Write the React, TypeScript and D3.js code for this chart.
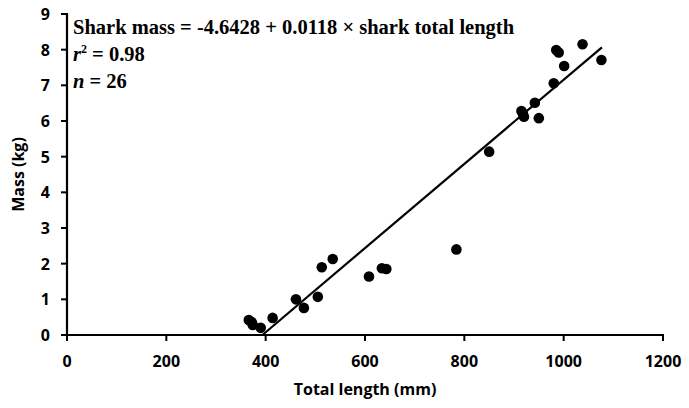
import React, { useEffect, useRef } from 'react';
import * as d3 from 'd3';

// total length (mm) and mass (kg) per shark
const lengths = [366, 372, 374, 390, 414, 461, 477, 505, 513, 535, 608, 634, 643, 784, 850, 915, 918, 920, 942, 950, 980, 985, 990, 1001, 1038, 1076];
const masses = [0.42, 0.36, 0.28, 0.2, 0.48, 1.0, 0.76, 1.07, 1.9, 2.13, 1.64, 1.87, 1.85, 2.4, 5.14, 6.28, 6.2, 6.12, 6.51, 6.08, 7.06, 7.99, 7.92, 7.54, 8.15, 7.71];

const xTicks = [0, 200, 400, 600, 800, 1000, 1200];
const yTicks = [0, 1, 2, 3, 4, 5, 6, 7, 8, 9];

const intercept = -4.6428;
const slope = 0.0118;
const fitRange = [-intercept / slope, 1077];

const W = 689;
const H = 408;
const axisFont = '"Open Sans", sans-serif';
const noteFont = '"Liberation Serif", "Times New Roman", serif';

const App = () => {
  const ref = useRef<SVGSVGElement | null>(null);

  useEffect(() => {
    const svg = d3.select(ref.current);
    svg.selectAll('*').remove();

    const x = d3.scaleLinear().domain([0, 1200]).range([67, 663]);
    const y = d3.scaleLinear().domain([0, 9]).range([335, 14]);

    // x axis
    const gx = svg.append('g').attr('transform', `translate(0,${y(0)})`);
    gx.append('line').attr('x1', x(0) - 1).attr('x2', x(1200) + 1).attr('stroke', '#000').attr('stroke-width', 2.2);
    gx.selectAll('.xt').data(xTicks).enter().append('line')
      .attr('x1', (d) => x(d)).attr('x2', (d) => x(d)).attr('y1', 0).attr('y2', 6)
      .attr('stroke', '#000').attr('stroke-width', 2);
    gx.selectAll('.xl').data(xTicks).enter().append('text')
      .attr('x', (d) => x(d)).attr('y', 32)
      .attr('text-anchor', 'middle')
      .style('font-family', axisFont).style('font-weight', 'bold').style('font-size', '16px')
      .text((d) => d);

    // y axis
    const gy = svg.append('g').attr('transform', `translate(${x(0)},0)`);
    gy.append('line').attr('y1', y(9) - 1).attr('y2', y(0) + 1).attr('stroke', '#000').attr('stroke-width', 2.2);
    gy.selectAll('.yt').data(yTicks).enter().append('line')
      .attr('y1', (d) => y(d)).attr('y2', (d) => y(d)).attr('x1', -6).attr('x2', 0)
      .attr('stroke', '#000').attr('stroke-width', 2);
    gy.selectAll('.yl').data(yTicks).enter().append('text')
      .attr('x', -17).attr('y', (d) => y(d) + 6)
      .attr('text-anchor', 'end')
      .style('font-family', axisFont).style('font-weight', 'bold').style('font-size', '16px')
      .text((d) => d);

    // axis titles
    svg.append('text')
      .attr('x', x(600)).attr('y', 395)
      .attr('text-anchor', 'middle')
      .style('font-family', axisFont).style('font-weight', 'bold').style('font-size', '16px')
      .text('Total length (mm)');
    svg.append('text')
      .attr('transform', `translate(24,${y(4.5)}) rotate(-90)`)
      .attr('text-anchor', 'middle')
      .style('font-family', axisFont).style('font-weight', 'bold').style('font-size', '16px')
      .text('Mass (kg)');

    // regression line
    const line = d3.line<number>().x((d) => x(d)).y((d) => y(intercept + slope * d));
    svg.append('path').attr('d', line(fitRange)).attr('fill', 'none').attr('stroke', '#000').attr('stroke-width', 2.2);

    // points
    svg.selectAll('.pt').data(lengths).enter().append('circle')
      .attr('cx', (d) => x(d)).attr('cy', (d, i) => y(masses[i]))
      .attr('r', 5.3).attr('fill', '#000');

    // annotation
    const note = svg.append('g')
      .style('font-family', noteFont).style('font-weight', 'bold').style('font-size', '20.5px');
    note.append('text').attr('x', 73).attr('y', 34)
      .text('Shark mass = -4.6428 + 0.0118 \u00d7 shark total length');
    const r2 = note.append('text').attr('x', 73).attr('y', 61);
    r2.append('tspan').style('font-style', 'italic').text('r');
    r2.append('tspan').attr('dy', -8).style('font-size', '12px').text('2');
    r2.append('tspan').attr('dy', 8).text(' = 0.98');
    const n = note.append('text').attr('x', 73).attr('y', 88);
    n.append('tspan').style('font-style', 'italic').text('n');
    n.append('tspan').text(' = 26');
  }, []);

  return (
    <div style={{ position: 'absolute', left: 0, top: 0, width: W, height: H, background: '#fff' }}>
      <svg ref={ref} width={W} height={H} />
    </div>
  );
};

export default App;
